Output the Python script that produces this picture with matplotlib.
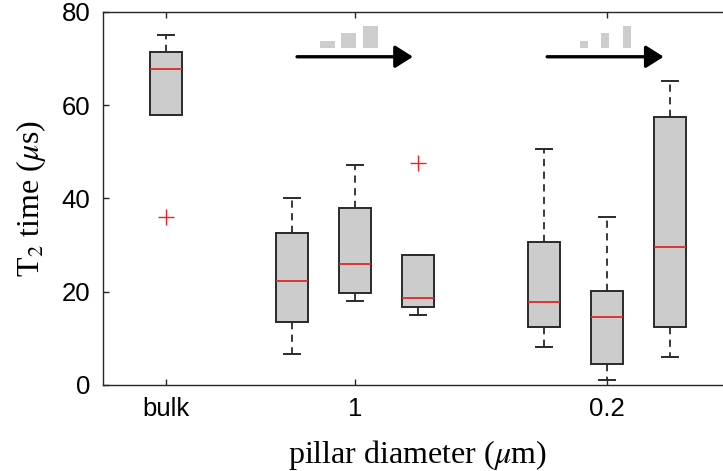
import matplotlib
matplotlib.use("Agg")
import matplotlib.pyplot as plt

# ---- data ----
groups = ["bulk", "1", "1", "1", "0.2", "0.2", "0.2"]
box_pos = [1, 3, 4, 5, 7, 8, 9]
whislo = [57.9, 6.6, 18.0, 15.1, 8.2, 1.1, 6.1]
q1 = [57.9, 13.6, 19.7, 16.7, 12.4, 4.4, 12.4]
med = [67.8, 22.4, 26.0, 18.6, 17.7, 14.5, 29.7]
q3 = [71.5, 32.7, 38.0, 27.9, 30.6, 20.2, 57.5]
whishi = [75.1, 40.0, 47.2, 27.9, 50.6, 36.1, 65.1]
fliers = [[36.1], [], [], [47.7], [], [], []]

tick_pos = [1, 4, 8]
tick_labels = ["bulk", "1", "0.2"]

# pillar-size icons (relative heights) and arrows
icon_levels = [1, 2, 3]
icon_groups = [3.9, 7.97]
icon_widths = [0.238, 0.127]
arrow_starts = [3.08, 7.05]
arrow_ends = [4.92, 8.9]

plt.rcParams["mathtext.fontset"] = "stix"

fig = plt.figure(figsize=(7.23, 4.71), dpi=100)
ax = fig.add_axes([103 / 723, 86 / 471, 630 / 723, 373 / 471])

stats = []
for i in range(len(box_pos)):
    stats.append(dict(med=med[i], q1=q1[i], q3=q3[i], whislo=whislo[i],
                      whishi=whishi[i], fliers=fliers[i]))

ax.bxp(stats, positions=box_pos, widths=0.5, capwidths=0.25,
       patch_artist=True, manage_ticks=False,
       boxprops=dict(facecolor="#cccccc", edgecolor="#2a2a2a", linewidth=1.4),
       medianprops=dict(color="#dd2a2a", linewidth=1.3),
       whiskerprops=dict(color="#2a2a2a", linewidth=1.3, linestyle=(0, (4, 3))),
       capprops=dict(color="#2a2a2a", linewidth=1.4),
       flierprops=dict(marker="+", markeredgecolor="#ee2222", markersize=12,
                       markeredgewidth=1.0, linestyle="none"))

# icons
for g, w in zip(icon_groups, icon_widths):
    xs = [g + (k - 1) * 0.34 for k in range(len(icon_levels))]
    ax.bar(xs, [lv * 1.6 for lv in icon_levels], width=w, bottom=72.2,
           color="#cdcdcd", edgecolor="none", zorder=3)
for s, e in zip(arrow_starts, arrow_ends):
    ax.annotate("", xy=(e, 70.4), xytext=(s, 70.4),
                arrowprops=dict(arrowstyle="-|>,head_length=0.54,head_width=0.34",
                                lw=2.4, color="black", mutation_scale=20,
                                shrinkA=0, shrinkB=0))

ax.set_xlim(0, 10)
ax.set_ylim(0, 80)
ax.set_yticks([0, 20, 40, 60, 80])
ax.set_xticks(tick_pos)
ax.set_xticklabels(tick_labels)
ax.tick_params(direction="in", length=4, width=1, top=True, right=True,
               labelsize=18.5, colors="#262626", labelcolor="black", pad=9)
for lab in ax.get_xticklabels() + ax.get_yticklabels():
    lab.set_family("Liberation Sans")
for sp in ax.spines.values():
    sp.set_color("#262626")
    sp.set_linewidth(1.0)

ax.set_xlabel(r"pillar diameter ($\mu$m)", family="Liberation Serif",
              fontsize=23, labelpad=12)
ax.set_ylabel(r"T$_2$ time ($\mu$s)", family="Liberation Serif",
              fontsize=23, labelpad=10)

fig.savefig("out.png", dpi=100)
